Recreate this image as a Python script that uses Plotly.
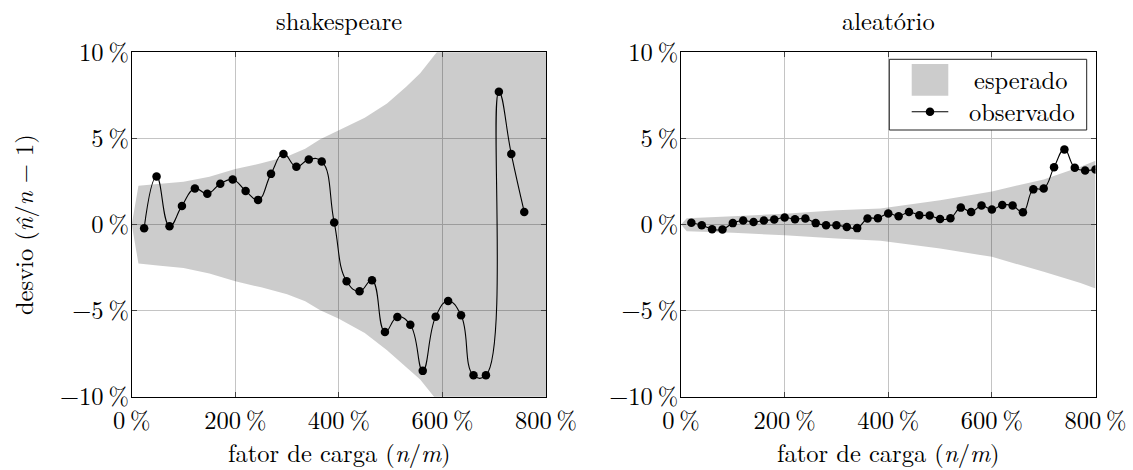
import plotly.graph_objects as go

W, H = 1133, 470

# ---------------- data ----------------
shk_x = [24, 48, 73, 97, 122, 146, 171, 195, 220, 244, 269, 293, 318, 342, 367, 391,
         415, 440, 464, 489, 513, 538, 562, 587, 611, 636, 660, 684, 709, 733, 758]
shk_y = [-0.22, 2.79, -0.10, 1.08, 2.09, 1.78, 2.36, 2.61, 1.95, 1.43, 2.94, 4.10, 3.35,
         3.78, 3.66, 0.12, -3.30, -3.88, -3.24, -6.24, -5.37, -5.82, -8.50, -5.35, -4.44,
         -5.27, -8.76, -8.76, 7.71, 4.09, 0.73]

shk_band_x = [0, 13, 50, 100, 150, 200, 250, 300, 335, 364, 400, 450, 493, 530, 557, 589, 620, 700, 800]
shk_band_hi = [0, 2.25, 2.35, 2.48, 2.77, 3.23, 3.55, 3.95, 4.40, 4.95, 5.48, 6.20, 7.03, 8.00, 8.78, 10.0, 11.3, 15.0, 20.0]
shk_band_lo = [0, -2.27, -2.38, -2.52, -2.85, -3.30, -3.65, -4.05, -4.45, -4.98, -5.47, -6.30, -7.30, -8.30, -9.00, -10.2, -11.5, -15.0, -20.0]

ale_x = [20, 40, 60, 80, 100, 120, 140, 160, 180, 200, 220, 240, 260, 280, 300, 320,
         340, 360, 380, 400, 420, 440, 460, 480, 500, 520, 540, 560, 580, 600, 620, 640,
         660, 680, 700, 720, 740, 760, 780, 800]
ale_y = [0.10, -0.04, -0.27, -0.29, 0.08, 0.23, 0.14, 0.23, 0.29, 0.41, 0.31, 0.35, 0.08,
         -0.04, -0.04, -0.14, -0.21, 0.35, 0.37, 0.64, 0.48, 0.72, 0.54, 0.52, 0.32, 0.36,
         0.98, 0.72, 1.10, 0.87, 1.13, 1.10, 0.71, 2.04, 2.09, 3.32, 4.36, 3.30, 3.14, 3.20]

ale_band_x = [0, 11, 100, 200, 300, 385, 500, 600, 700, 771, 800]
ale_band_hi = [0, 0.37, 0.48, 0.63, 0.83, 0.93, 1.41, 1.92, 2.62, 3.35, 3.70]
ale_band_lo = [0, -0.39, -0.48, -0.62, -0.82, -0.95, -1.40, -1.88, -2.75, -3.40, -3.72]

x_ticks = [0, 200, 400, 600, 800]
x_ticktext = ["0\u2009%", "200\u2009%", "400\u2009%", "600\u2009%", "800\u2009%"]
y_ticks = [-10, -5, 0, 5, 10]
y_ticktext = ["\u221210\u2009%", "\u22125\u2009%", "0\u2009%", "5\u2009%", "10\u2009%"]

titles = ["shakespeare", "aleatório"]
legend_labels = ["esperado", "observado"]

# ---------------- style ----------------
FONT = "Latin Modern Roman"
FS = 24.5
BAND = "rgba(0,0,0,0.2)"
GRID = "#c4c4c4"

fig = go.Figure()

def add_panel(xa, ya, bx, blo, bhi, px, py):
    fig.add_trace(go.Scatter(x=bx, y=blo, mode="lines", line=dict(width=0),
                             xaxis=xa, yaxis=ya, showlegend=False, hoverinfo="skip"))
    fig.add_trace(go.Scatter(x=bx, y=bhi, mode="lines", line=dict(width=0),
                             fill="tonexty", fillcolor=BAND,
                             xaxis=xa, yaxis=ya, showlegend=False, hoverinfo="skip"))
    fig.add_trace(go.Scatter(x=px, y=py, mode="lines+markers",
                             line=dict(color="black", width=1.1, shape="spline", smoothing=1.3),
                             marker=dict(color="black", size=8.5),
                             xaxis=xa, yaxis=ya, showlegend=False, cliponaxis=True))

add_panel("x", "y", shk_band_x, shk_band_lo, shk_band_hi, shk_x, shk_y)
add_panel("x2", "y2", ale_band_x, ale_band_lo, ale_band_hi, ale_x, ale_y)

def px2x(p):
    return p / W

def px2y(p):
    return 1 - p / H

dom1 = [px2x(131.7), px2x(546.0)]
dom2 = [px2x(681.0), px2x(1095.5)]
ydom = [px2y(396.7), px2y(52.3)]

axis_common = dict(showline=True, mirror="ticks", linecolor="black", linewidth=1,
                   showgrid=True, gridcolor=GRID, gridwidth=1, zeroline=False,
                   ticks="inside", ticklen=5, tickcolor="#444", tickwidth=1,
                   automargin=False,
                   tickfont=dict(family=FONT, size=FS, color="black"))

fig.update_layout(
    width=W, height=H,
    margin=dict(l=0, r=0, t=0, b=0),
    paper_bgcolor="white", plot_bgcolor="white",
    showlegend=False,
    font=dict(family=FONT, color="black"),
    xaxis=dict(domain=dom1, range=[0, 800], tickvals=x_ticks, ticktext=x_ticktext,
               anchor="y", ticklabelstandoff=2, **axis_common),
    yaxis=dict(domain=ydom, range=[-10, 10], tickvals=y_ticks, ticktext=y_ticktext,
               anchor="x", ticklabelstandoff=-3, **axis_common),
    xaxis2=dict(domain=dom2, range=[0, 800], tickvals=x_ticks, ticktext=x_ticktext,
                anchor="y2", ticklabelstandoff=2, **axis_common),
    yaxis2=dict(domain=ydom, range=[-10, 10], tickvals=y_ticks, ticktext=y_ticktext,
                anchor="x2", ticklabelstandoff=-3, **axis_common),
)

ann_font = dict(family=FONT, size=FS, color="black")
annotations = [
    dict(text=titles[0], x=px2x(338.8), y=1.0, xref="paper", yref="paper",
         xanchor="center", yanchor="top", showarrow=False, font=ann_font),
    dict(text=titles[1], x=px2x(888.2), y=1.0, xref="paper", yref="paper",
         xanchor="center", yanchor="top", showarrow=False, font=ann_font),
    dict(text="fator de carga (<i>n</i>/<i>m</i>)", x=px2x(338.8), y=px2y(451),
         xref="paper", yref="paper", xanchor="center", yanchor="middle", showarrow=False, font=ann_font),
    dict(text="fator de carga (<i>n</i>/<i>m</i>)", x=px2x(888.2), y=px2y(451),
         xref="paper", yref="paper", xanchor="center", yanchor="middle", showarrow=False, font=ann_font),
    dict(text="desvio (<i>n\u0302</i>/<i>n</i> \u2212 1)", x=px2x(22), y=px2y(225),
         xref="paper", yref="paper", xanchor="center", yanchor="middle", textangle=-90,
         showarrow=False, font=ann_font),
    # legend labels
    dict(text=legend_labels[0], x=px2x(1020), y=px2y(79), xref="paper", yref="paper",
         xanchor="center", yanchor="middle", showarrow=False, font=ann_font),
    dict(text=legend_labels[1], x=px2x(1022), y=px2y(110.5), xref="paper", yref="paper",
         xanchor="center", yanchor="middle", showarrow=False, font=ann_font),
]
fig.update_layout(annotations=annotations)

shapes = [
    # legend box
    dict(type="rect", xref="paper", yref="paper", x0=px2x(889.3), x1=px2x(1086.7),
         y0=px2y(130), y1=px2y(59.3), line=dict(color="#222", width=1), fillcolor="white", layer="above"),
    # legend patch (esperado)
    dict(type="rect", xref="paper", yref="paper", x0=px2x(911.7), x1=px2x(948.3),
         y0=px2y(95.7), y1=px2y(64), line=dict(width=0), fillcolor="#cccccc", layer="above"),
    # legend line (observado)
    dict(type="line", xref="paper", yref="paper", x0=px2x(911.7), x1=px2x(948.3),
         y0=px2y(111.7), y1=px2y(111.7), line=dict(color="black", width=1.1), layer="above"),
    dict(type="circle", xref="paper", yref="paper", x0=px2x(925.7), x1=px2x(934.3),
         y0=px2y(116), y1=px2y(107.4), line=dict(color="black", width=0), fillcolor="black", layer="above"),
]
fig.update_layout(shapes=shapes)

fig.write_html("out.html")
